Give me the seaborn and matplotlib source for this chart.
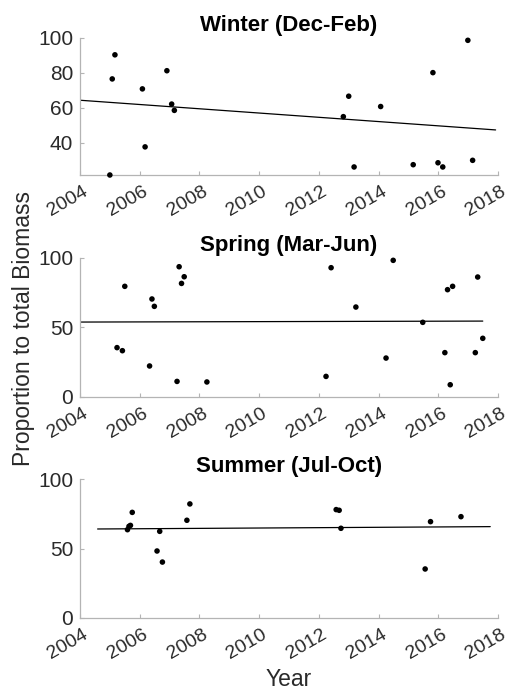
import numpy as np
import pandas as pd
import matplotlib
matplotlib.use("Agg")
import matplotlib.pyplot as plt
import matplotlib.transforms as mtransforms
import seaborn as sns

# Seasonal proportion of total biomass (%) by sampling date (decimal year)
winter_year = [2005.00, 2005.08, 2005.17, 2006.09, 2006.18, 2006.91, 2007.07, 2007.16,
               2012.82, 2013.00, 2013.18, 2014.07, 2015.16, 2015.82, 2015.99, 2016.15,
               2016.99, 2017.15]
winter_prop = [21.4, 76.4, 90.2, 70.7, 37.5, 81.1, 62.0, 58.4,
               54.8, 66.5, 26.0, 60.6, 27.3, 80.0, 28.4, 26.0,
               98.5, 29.8]

spring_year = [2005.24, 2005.42, 2005.50, 2006.33, 2006.41, 2006.49, 2007.25, 2007.32,
               2007.40, 2007.49, 2008.25, 2012.24, 2012.41, 2013.24, 2014.25, 2014.49,
               2015.48, 2016.22, 2016.31, 2016.40, 2016.48, 2017.24, 2017.32, 2017.49]
spring_prop = [35.3, 33.1, 79.4, 22.1, 70.3, 65.0, 11.0, 93.5,
               81.5, 86.3, 10.6, 14.6, 92.8, 64.5, 27.8, 98.1,
               53.5, 31.7, 77.0, 8.6, 79.4, 31.7, 86.1, 42.0]

summer_year = [2005.59, 2005.64, 2005.69, 2005.75, 2006.58, 2006.67, 2006.76, 2007.58,
               2007.68, 2012.58, 2012.68, 2012.74, 2015.56, 2015.74, 2016.76]
summer_prop = [63.6, 66.0, 66.7, 76.1, 48.2, 62.4, 40.2, 70.4,
               82.2, 78.1, 77.6, 64.6, 35.2, 69.4, 73.0]

# Linear trend lines (endpoints in year / proportion)
winter_trend_year = [2004.0, 2017.92]
winter_trend_prop = [64.2, 47.2]
spring_trend_year = [2004.0, 2017.49]
spring_trend_prop = [53.7, 54.4]
summer_trend_year = [2004.59, 2017.74]
summer_trend_prop = [64.1, 65.8]

titles = ["Winter (Dec-Feb)", "Spring (Mar-Jun)", "Summer (Jul-Oct)"]
year_ticks = [2004, 2006, 2008, 2010, 2012, 2014, 2016, 2018]
winter_yticks = [40, 60, 80, 100]
other_yticks = [0, 50, 100]

sns.set_style("ticks")
plt.rcParams["font.family"] = ["Liberation Sans", "DejaVu Sans"]

W, H = 508, 694
fig = plt.figure(figsize=(W / 100, H / 100), dpi=100)

axis_gray = "#b4b4b4"
label_gray = "#2a2a2a"

# (top, bottom) pixel rows of each panel
panel_rows = [(37.7, 175.0), (257.7, 396.7), (479.3, 617.7)]
left_px, right_px = 80, 498

panels = [
    (winter_year, winter_prop, winter_trend_year, winter_trend_prop, (21.4, 100), winter_yticks),
    (spring_year, spring_prop, spring_trend_year, spring_trend_prop, (0, 100), other_yticks),
    (summer_year, summer_prop, summer_trend_year, summer_trend_prop, (0, 100), other_yticks),
]

shift = mtransforms.ScaledTranslation(2.5 / 100, 0, fig.dpi_scale_trans)

for (top, bot), title, (yr, pr, tyr, tpr, ylim, yticks) in zip(panel_rows, titles, panels):
    ax = fig.add_axes([left_px / W, 1 - bot / H, (right_px - left_px) / W, (bot - top) / H])
    df = pd.DataFrame({"Year": yr, "Proportion": pr})
    tdf = pd.DataFrame({"Year": tyr, "Proportion": tpr})
    sns.lineplot(data=tdf, x="Year", y="Proportion", ax=ax, color="black", linewidth=0.9)
    sns.scatterplot(data=df, x="Year", y="Proportion", ax=ax, color="black",
                    s=16, edgecolor="none", zorder=3, clip_on=False)
    ax.set_xlim(2004, 2018)
    ax.set_ylim(*ylim)
    ax.set_xticks(year_ticks)
    ax.set_yticks(yticks)
    ax.set_xticklabels([str(t) for t in year_ticks], rotation=30, ha="right",
                       rotation_mode="anchor")
    ax.tick_params(axis="both", direction="in", length=3, width=0.8, color=axis_gray,
                   labelcolor=label_gray)
    ax.tick_params(axis="y", labelsize=15, pad=5)
    ax.tick_params(axis="x", labelsize=14, pad=6)
    for lbl in ax.get_xticklabels():
        lbl.set_transform(lbl.get_transform() + shift)
    for side in ("top", "right"):
        ax.spines[side].set_visible(False)
    for side in ("left", "bottom"):
        ax.spines[side].set_color(axis_gray)
        ax.spines[side].set_linewidth(0.9)
    ax.set_xlabel("")
    ax.set_ylabel("")
    ax.set_title(title, fontsize=16, fontweight="bold", color="black", pad=5)

fig.text(24 / W, 1 - 328 / H, "Proportion to total Biomass", rotation=90,
         ha="center", va="center", fontsize=16.5, color=label_gray)
fig.text(289 / W, 1 - 680 / H, "Year", ha="center", va="center",
         fontsize=16.5, color=label_gray)

fig.savefig("out.png", dpi=100)
